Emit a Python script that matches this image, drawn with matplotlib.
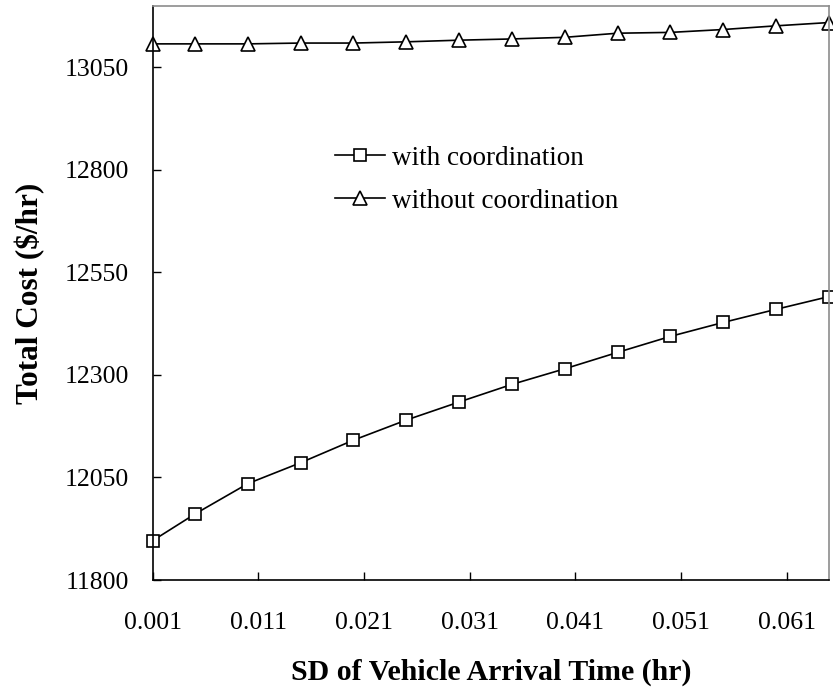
import matplotlib

matplotlib.use("Agg")
import matplotlib.pyplot as plt
import numpy as np

# SD of vehicle arrival time (hr)
sd = [0.001, 0.005, 0.010, 0.015, 0.020, 0.025, 0.030,
      0.035, 0.040, 0.045, 0.050, 0.055, 0.060, 0.065]
# total cost ($/hr)
with_coord = [11896, 11961, 12035, 12086, 12141, 12190, 12234,
              12277, 12315, 12355, 12394, 12428, 12460, 12491]
without_coord = [13107, 13107, 13107, 13109, 13109, 13112, 13116,
                 13119, 13123, 13133, 13135, 13142, 13151, 13159]
xticks = [0.001, 0.011, 0.021, 0.031, 0.041, 0.051, 0.061]
yticks = [11800, 12050, 12300, 12550, 12800, 13050]

plt.rcParams.update({"font.family": "Liberation Serif", "font.size": 18.5})

fig = plt.figure(figsize=(8.33, 6.98), dpi=100)
ax = fig.add_axes([0.1833, 0.169, 0.8119, 0.8228])

style = dict(color="black", lw=1.2, mfc="white", mec="black", mew=1.2, clip_on=False)
ax.plot(sd, with_coord, marker="s", ms=8.5, label="with coordination", **style)
ax.plot(sd, without_coord, marker="^", ms=9.5, label="without coordination", **style)

ax.set_xlim(0.001, 0.065)
ax.set_ylim(11800, 13200)
ax.set_xticks(xticks, [f"{t:.3f}" for t in xticks])
ax.set_yticks(yticks, [str(t) for t in yticks])
ax.tick_params(direction="in", length=6, width=1, labelsize=18.5)
ax.tick_params(axis="x", pad=23)
ax.tick_params(axis="y", pad=17)

for s in ("top", "right"):
    ax.spines[s].set_color("#8c8c8c")
for s in ("left", "bottom"):
    ax.spines[s].set_color("black")
for s in ax.spines.values():
    s.set_linewidth(1.2)

ax.set_xlabel("SD of Vehicle Arrival Time (hr)", fontsize=21.5, fontweight="bold", labelpad=18)
ax.set_ylabel("Total Cost ($/hr)", fontsize=22.5, fontweight="bold", labelpad=14)

ax.legend(loc="center left", bbox_to_anchor=(0.2696, 0.697), frameon=False,
          fontsize=19.5, handlelength=1.85, handletextpad=0.26, labelspacing=0.66,
          borderpad=0, borderaxespad=0)

fig.savefig("out.png", dpi=100)
